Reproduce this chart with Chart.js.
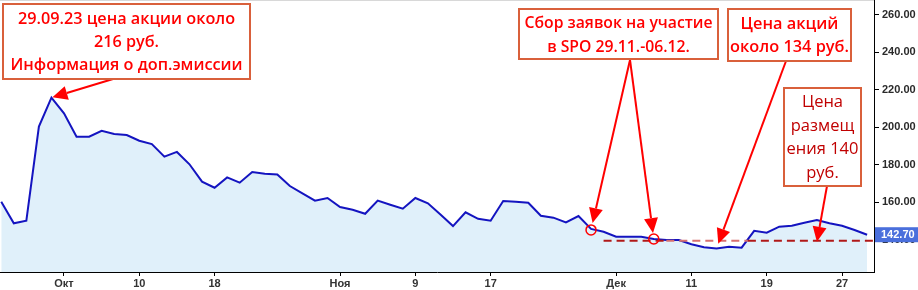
<!DOCTYPE html>
<html>
<head>
<meta charset="utf-8">
<script src="https://cdn.jsdelivr.net/npm/chart.js@4.4.0/dist/chart.umd.min.js"></script>
<style>
 html,body{margin:0;padding:0;background:#fff}
 #wrap{width:918px;height:290px}
</style>
</head>
<body>
<div id="wrap"><canvas id="chart" width="918" height="290"></canvas></div>
<script>
// daily close, 25.09.23 - 29.12.23 (trading days)
var prices = [160.3,148.8,150.2,200.4,215.9,207.5,195,195,198.2,196.5,
 195.9,192.9,191.1,184.4,186.9,180.3,171,167.8,173.3,170.5,
 176.2,175.3,174.9,168.7,164.8,160.9,162.3,157.5,156,153.9,
 160.9,158.7,156.6,162.3,159.5,153.5,147.3,154.7,151.2,150.2,
 160.7,160.3,159.8,152.8,151.8,149.3,152.7,145.8,144.3,141.6,
 141.6,141.6,140.4,139.9,139.9,137.6,136,135.4,136.3,135.8,
 144.8,143.8,147,147.5,149.1,150.5,148.8,147.5,145.2,142.7]

var tickIdx = [5,11,17,27,33,39,49,55,61,67]
var tickLabels = ["Окт","10","18","Ноя","9","17","Дек","11","19","27"]
var yTicks = [140,160,180,200,220,240,260]

// placement price line
var placeX = [48,53,59.5,69.6]
var placeY = [139.5,139.5,139.5,139.5]
var lastPrice = "142.70"

var notes = [
 {x:3,y:4,w:247,h:75,lines:["29.09.23 цена акции около","216 руб.","Информация о доп.эмиссии"],color:"#ff0000",weight:"600",size:16.5,fit:[2,232],lh:23},
 {x:519,y:9,w:199,h:50,lines:["Сбор заявок на участие","в SPO 29.11.-06.12."],color:"#ff0000",weight:"600",size:16.5,fit:[0,188],lh:24},
 {x:728,y:9,w:123,h:52,lines:["Цена акций","около 134 руб."],color:"#ff0000",weight:"600",size:16.5,fit:[1,119],lh:23},
 {x:784,y:88,w:77,h:98,lines:["Цена","размещ","ения 140","руб."],color:"#c00000",weight:"normal",size:16.5,fit:[2,72],lh:23.5}
]

var pts = []
prices.forEach(function(v,i){ pts.push({x:i,y:v}) })
var place = []
placeX.forEach(function(v,i){ place.push({x:v,y:placeY[i]}) })

function arrow(ctx,x1,y1,x2,y2){
 var a = Math.atan2(y2-y1,x2-x1), L=15, W=7
 var bx = x2-L*Math.cos(a), by = y2-L*Math.sin(a)
 ctx.beginPath(); ctx.moveTo(x1,y1); ctx.lineTo(bx,by); ctx.stroke()
 ctx.beginPath(); ctx.moveTo(x2,y2)
 ctx.lineTo(bx+W*Math.sin(a),by-W*Math.cos(a))
 ctx.lineTo(bx-W*Math.sin(a),by+W*Math.cos(a))
 ctx.closePath(); ctx.fill()
}
// point on segment start->end, `gap` px before end
function short(x1,y1,x2,y2,gap){
 var d = Math.hypot(x2-x1,y2-y1)
 return [x2-(x2-x1)*gap/d, y2-(y2-y1)*gap/d]
}

var notesPlugin = {
 id:"notes",
 afterDraw:function(chart){
  var ctx = chart.ctx, xs = chart.scales.x, ys = chart.scales.y
  var px = function(i){ return xs.getPixelForValue(i) }
  var py = function(v){ return ys.getPixelForValue(v) }
  ctx.save()
  // top hairline
  ctx.strokeStyle="#d8d8d8"; ctx.lineWidth=1
  ctx.beginPath(); ctx.moveTo(0,0.5); ctx.lineTo(chart.chartArea.right,0.5); ctx.stroke()

  // price tag
  var ty = py(prices[prices.length-1])
  ctx.fillStyle="#4a6fdc"
  ctx.fillRect(chart.chartArea.right+1,ty-7.5,918-chart.chartArea.right-1,15)
  ctx.fillStyle="#fff"; ctx.font="bold 11px 'Liberation Sans', Arial"
  ctx.textBaseline="middle"; ctx.textAlign="left"
  ctx.fillText(lastPrice,chart.chartArea.right+7,ty+0.5)

  // circles
  var c1 = [px(47),py(prices[47])+1], c2 = [px(52),py(prices[52])]
  ctx.strokeStyle="#ff0000"; ctx.lineWidth=1.5
  ;[c1,c2].forEach(function(c){ ctx.beginPath(); ctx.arc(c[0],c[1],5,0,Math.PI*2); ctx.stroke() })

  // arrows
  ctx.strokeStyle="#ff0000"; ctx.fillStyle="#ff0000"; ctx.lineWidth=2
  var t
  t = short(113,79,px(4),py(prices[4]),1); arrow(ctx,113,79,t[0],t[1])
  t = short(630,60,c1[0],c1[1],7); arrow(ctx,630,60,t[0],t[1])
  t = short(630,60,c2[0],c2[1],6); arrow(ctx,630,60,t[0],t[1])
  t = short(786,61,px(57),py(prices[57]),5); arrow(ctx,786,61,t[0],t[1])
  arrow(ctx,827,186,px(65),py(placeY[0])+1)

  // boxes
  notes.forEach(function(n){
   ctx.fillStyle="#fff"; ctx.fillRect(n.x,n.y,n.w,n.h)
   ctx.strokeStyle="#d9603b"; ctx.lineWidth=2; ctx.strokeRect(n.x,n.y,n.w,n.h)
   var fam = "'Open Sans', 'Noto Sans', sans-serif"
   ctx.font = n.weight+" "+n.size+"px "+fam
   var sx = n.fit[1]/ctx.measureText(n.lines[n.fit[0]]).width
   ctx.fillStyle=n.color; ctx.textAlign="center"; ctx.textBaseline="middle"
   var cy = n.y+n.h/2 - (n.lines.length-1)*n.lh/2
   n.lines.forEach(function(s,k){
    ctx.save()
    ctx.translate(n.x+n.w/2,cy+k*n.lh+1)
    ctx.scale(sx,1)
    ctx.fillText(s,0,0)
    ctx.restore()
   })
  })
  ctx.restore()
 }
}

new Chart(document.getElementById("chart"),{
 type:"line",
 data:{datasets:[
  {data:place,borderColor:"#b01818",borderWidth:2,borderDash:[8,5],pointRadius:0,fill:false,order:0,
   segment:{borderColor:function(c){ return c.p0DataIndex==1 ? "#d87070" : "#b01818" }}},
  {data:pts,borderColor:"#1414c0",borderWidth:2,pointRadius:0,tension:0,
   fill:"start",backgroundColor:"#e0f0fa",order:1}
 ]},
 options:{
  responsive:false,animation:false,
  layout:{padding:0},
  plugins:{legend:{display:false},tooltip:{enabled:false}},
  scales:{
   x:{type:"linear",min:-0.1,max:69.55,
    grid:{display:true,drawOnChartArea:false,drawTicks:true,tickLength:4,color:"#000"},
    border:{display:true,color:"#000",width:1},
    afterBuildTicks:function(s){ s.ticks = tickIdx.map(function(v){ return {value:v} }) },
    ticks:{autoSkip:false,maxRotation:0,padding:1,color:"#333",
     font:{family:"'Liberation Sans', Arial",size:11,weight:"bold"},
     callback:function(v){ var k=tickIdx.indexOf(v); return k<0?"":tickLabels[k] }},
    afterFit:function(s){ s.height=18; s.paddingLeft=0; s.paddingRight=0 }
   },
   y:{position:"right",min:122.8,max:268,
    grid:{display:true,drawOnChartArea:false,drawTicks:true,tickLength:5,color:"#000"},
    border:{display:true,color:"#000",width:1},
    afterBuildTicks:function(s){ s.ticks = yTicks.map(function(v){ return {value:v} }) },
    ticks:{padding:3,color:"#2a2a2a",font:{family:"'Liberation Sans', Arial",size:11,weight:"bold"},
     callback:function(v){ return v.toFixed(2) }},
    afterFit:function(s){ s.width=44; s.paddingTop=0; s.paddingBottom=0 }
   }
  }
 },
 plugins:[notesPlugin]
})
</script>
</body>
</html>
